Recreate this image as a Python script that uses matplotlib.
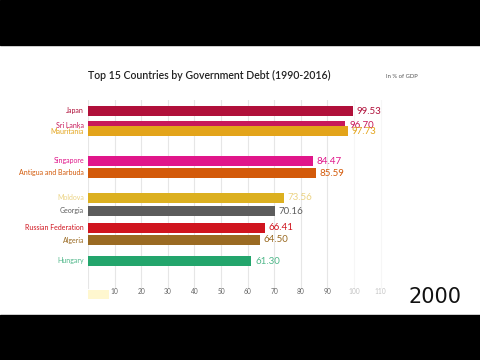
import matplotlib.pyplot as plt

# frame of a bar chart race, year 2000
countries = ["Japan", "Sri Lanka", "Mauritania", "Singapore", "Antigua and Barbuda",
             "Moldova", "Georgia", "Russian Federation", "Algeria", "Hungary"]
debt = [99.53, 96.70, 97.73, 84.47, 85.59, 73.56, 70.16, 66.41, 64.50, 61.30]
colors = ["#b0103a", "#c8185a", "#e3a41a", "#e0168a", "#d35a0a",
          "#dcb020", "#5c5c5c", "#d0141e", "#9a6a22", "#23a56c"]
label_alpha = [1, 1, 1, 1, 1, 0.55, 1, 1, 1, 0.8]
ticks = [10, 20, 30, 40, 50, 60, 70, 80, 90, 100, 110]
year = "2000"

# vertical placement of each bar (pixel rows, mid-animation)
ypos = [111, 126, 131, 161, 173, 198, 211, 228, 240, 261]

plt.rcParams["font.family"] = ["Lato", "DejaVu Sans"]

W, H = 480, 360
fig = plt.figure(figsize=(4.8, 3.6), dpi=100)
fig.patch.set_facecolor("white")

# black letterbox bands
fig.add_artist(plt.Rectangle((0, 1 - 45 / H), 1, 45 / H, color="black", transform=fig.transFigure))
fig.add_artist(plt.Rectangle((0, 0), 1, 45 / H, color="black", transform=fig.transFigure))

x0, px_per_unit = 88, 2.66
xmax = 130
top, bottom = 100, 300
ax = fig.add_axes([x0 / W, 1 - bottom / H, xmax * px_per_unit / W, (bottom - top) / H])
ax.set_xlim(0, xmax)
ax.set_ylim(bottom, top)
for s in ax.spines.values():
    s.set_visible(False)
ax.set_yticks([])
ax.set_xticks([])

for t in [0] + ticks:
    a = 0.35 if t >= 100 else 1
    ax.plot([t, t], [top, 288], color="#e6e6e6", lw=0.8, alpha=a, zorder=0)
    if t > 0:
        ax.text(t, 292, str(t), ha="center", va="center", fontsize=4.8,
                color="#555555", alpha=0.35 if t >= 100 else 0.9)

for name, v, c, y, la in zip(countries, debt, colors, ypos, label_alpha):
    ax.barh(y, v, height=10, color=c, zorder=2)
    ax.text(-1.5, y, name, ha="right", va="center", fontsize=5, color=c, alpha=la)
    ax.text(v + 1.5, y, f"{v:.2f}", ha="left", va="center", fontsize=7, color=c, alpha=la)

# faint bar fading in at the bottom
ax.barh(294, 8, height=9, color="#fff3b0", alpha=0.6, zorder=1)

fig.text(x0 / W, 1 - 75 / H, "Top 15 Countries by Government Debt (1990-2016)",
         ha="left", va="center", fontsize=7.6, color="#222222", fontweight="semibold")
fig.text(386 / W, 1 - 76 / H, "In % of GDP", ha="left", va="center", fontsize=4.2, color="#555555")
fig.text(462 / W, 1 - 297 / H, year, ha="right", va="center", fontsize=15,
         color="#111111", family="DejaVu Sans")

fig.savefig("out.png", dpi=100)
